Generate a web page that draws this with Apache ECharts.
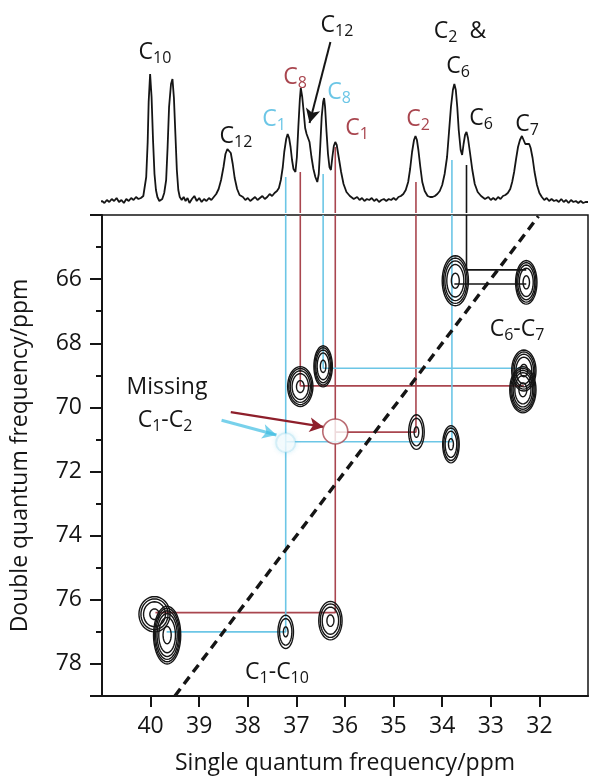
<!DOCTYPE html>
<html>
<head>
<meta charset="utf-8">
<script src="https://cdn.jsdelivr.net/npm/echarts@6/dist/echarts.min.js"></script>
<style>
  html, body { margin: 0; padding: 0; background: #fff; }
  #chart { width: 589px; height: 780px; }
</style>
</head>
<body>
<div id="chart"></div>
<script>
// axis ticks (ppm)
const sqTicks = [40, 39, 38, 37, 36, 35, 34, 33, 32];
const dqTicks = [66, 68, 70, 72, 74, 76, 78];
const dqMinor = [65, 67, 69, 71, 73, 75, 77];

// 1D spectrum on top: [single quantum ppm, intensity]
const spectrum = [
  [41.05, 0], [41.0, 1], [40.95, -1], [40.9, 2], [40.85, 0], [40.8, 3], [40.75, 1], [40.7, 4],
  [40.65, 0], [40.6, 2], [40.55, -1], [40.5, 3], [40.45, 1], [40.4, 4], [40.35, 2], [40.3, 5],
  [40.25, 3], [40.2, 4], [40.15, 6], [40.12, 8], [40.09, 25], [40.06, 60], [40.04, 100],
  [40.01, 128], [39.98, 105], [39.95, 62], [39.92, 28], [39.89, 12], [39.86, 5], [39.82, 1],
  [39.79, 0], [39.76, 3], [39.72, 9], [39.68, 22], [39.65, 55], [39.62, 95], [39.58, 118],
  [39.55, 123], [39.52, 104], [39.49, 68], [39.46, 32], [39.43, 12], [39.4, 5], [39.36, 2],
  [39.32, 5], [39.28, 1], [39.24, 4], [39.2, -1], [39.15, 3], [39.1, 6], [39.05, 1], [39.0, 4],
  [38.95, 0], [38.9, 3], [38.85, 1], [38.8, 4], [38.75, 2], [38.7, 5], [38.65, 8], [38.6, 13],
  [38.55, 22], [38.5, 35], [38.46, 48], [38.42, 53], [38.39, 54], [38.35, 49], [38.31, 38],
  [38.27, 24], [38.22, 13], [38.17, 7], [38.1, 5], [38.05, 2], [38.0, 4], [37.95, 1], [37.9, 3],
  [37.85, 5], [37.8, 2], [37.75, 4], [37.7, 6], [37.65, 3], [37.6, 5], [37.55, 8], [37.5, 6],
  [37.45, 9], [37.4, 11], [37.36, 14], [37.32, 22], [37.28, 35], [37.25, 50], [37.21, 63],
  [37.18, 68], [37.15, 64], [37.12, 55], [37.09, 42], [37.06, 33], [37.02, 30], [36.99, 45],
  [36.96, 75], [36.93, 102], [36.91, 114], [36.88, 105], [36.85, 90], [36.82, 74], [36.79, 68],
  [36.76, 67], [36.73, 60], [36.69, 45], [36.65, 33], [36.61, 25], [36.57, 20], [36.54, 28],
  [36.51, 55], [36.48, 85], [36.45, 100], [36.43, 104], [36.41, 95], [36.38, 70], [36.35, 48],
  [36.32, 35], [36.29, 32], [36.26, 45], [36.23, 56], [36.2, 60], [36.17, 57], [36.13, 45],
  [36.08, 30], [36.03, 18], [35.97, 10], [35.9, 6], [35.82, 3], [35.75, 5], [35.7, 2], [35.65, 4],
  [35.6, 1], [35.55, 3], [35.5, 2], [35.45, 4], [35.4, 1], [35.35, 3], [35.3, 0], [35.25, 2],
  [35.2, 3], [35.15, 1], [35.1, 3], [35.05, 2], [35.0, 4], [34.95, 2], [34.9, 5], [34.85, 6],
  [34.8, 8], [34.75, 12], [34.7, 20], [34.66, 33], [34.62, 50], [34.58, 62], [34.55, 66],
  [34.52, 62], [34.49, 52], [34.45, 35], [34.41, 20], [34.36, 11], [34.3, 6], [34.25, 5],
  [34.2, 5], [34.15, 6], [34.1, 8], [34.05, 11], [34.0, 17], [33.95, 28], [33.9, 45], [33.86, 70],
  [33.82, 95], [33.78, 112], [33.75, 118], [33.72, 112], [33.69, 95], [33.66, 72], [33.62, 52],
  [33.59, 47], [33.56, 58], [33.53, 67], [33.5, 70], [33.47, 64], [33.43, 50], [33.38, 32],
  [33.33, 18], [33.27, 10], [33.2, 6], [33.12, 3], [33.05, 5], [33.0, 2], [32.95, 4], [32.9, 2],
  [32.85, 5], [32.8, 3], [32.75, 6], [32.7, 7], [32.65, 9], [32.6, 13], [32.56, 20], [32.52, 30],
  [32.48, 43], [32.44, 55], [32.4, 62], [32.36, 66], [32.33, 64], [32.29, 58], [32.25, 57],
  [32.21, 58], [32.18, 54], [32.14, 44], [32.1, 30], [32.05, 17], [32.0, 9], [31.95, 5], [31.9, 2],
  [31.85, 4], [31.8, 1], [31.75, 3], [31.7, 1], [31.65, 2], [31.6, 0], [31.55, 3], [31.5, 0],
  [31.45, 2], [31.4, -1], [31.35, 2], [31.3, 0], [31.25, 1], [31.2, -1], [31.15, 1], [31.1, -1],
  [31.05, 0], [31.0, 0]
];

// 2D cross peaks: [sq ppm, dq ppm, half width sq, half width dq, contour levels]
const peaks = [
  [33.73, 66.05, 0.27, 0.78, 5],
  [32.27, 66.10, 0.22, 0.68, 5],
  [36.45, 68.72, 0.19, 0.64, 5],
  [36.92, 69.35, 0.26, 0.62, 5],
  [32.32, 68.85, 0.25, 0.64, 5],
  [32.34, 69.45, 0.27, 0.72, 6],
  [34.53, 70.77, 0.16, 0.54, 3],
  [33.82, 71.15, 0.17, 0.58, 4],
  [39.92, 76.45, 0.32, 0.55, 4],
  [39.66, 77.10, 0.28, 0.90, 6],
  [37.22, 77.00, 0.16, 0.52, 3],
  [36.30, 76.65, 0.24, 0.60, 4]
];

// connectivity paths in the 2D plot [sq, dq]
const redPaths = [
  [[36.92, 64], [36.92, 69.33], [32.32, 69.33]],
  [[36.2, 64], [36.2, 76.4], [39.9, 76.4]],
  [[34.54, 64], [34.54, 70.77], [36.2, 70.77]]
];
const cyanPaths = [
  [[37.22, 64], [37.22, 77.0], [39.67, 77.0]],
  [[36.45, 64], [36.45, 68.78], [32.32, 68.78]],
  [[33.8, 64], [33.8, 71.07], [37.22, 71.07]]
];
const blackPaths = [
  [[33.5, 64], [33.5, 65.71], [32.27, 65.71]],
  [[33.75, 66.15], [32.27, 66.15]]
];
// the same lines continued up into the spectrum: [sq, top intensity]
const redStubs = [[36.92, 30], [36.2, 55], [34.54, 20]];
const cyanStubs = [[37.22, 25], [36.45, 28], [33.8, 42]];
const blackStubs = [[33.5, 37]];

// DQ = 2 x SQ diagonal
const diagonal = [[39.5, 79], [32.02, 64.04]];
// missing C1-C2 positions
const missingRed = [[36.2, 70.75]];
const missingCyan = [[37.22, 71.1]];
// arrows [from, to]
const arrowTop = [[36.30, 160], [36.73, 79]];
const arrowRed = [[38.35, 70.15], [36.44, 70.61]];
const arrowCyan = [[38.54, 70.40], [37.41, 70.86]];

const RED = '#a9464f';
const CYAN = '#6cc6e6';
const INK = '#151515';
const FONT = 'Open Sans';

const chart = echarts.init(document.getElementById('chart'));

function pathSeries(paths, color, xi, yi) {
  return paths.map(p => ({
    type: 'line', xAxisIndex: xi, yAxisIndex: yi, data: p,
    symbol: 'none', silent: true, z: 2,
    lineStyle: { color: color, width: 1.6 }
  }));
}
function stubSeries(stubs, color) {
  return stubs.map(s => ({
    type: 'line', xAxisIndex: 1, yAxisIndex: 1, data: [[s[0], -11], [s[0], s[1]]],
    symbol: 'none', silent: true, z: 2,
    lineStyle: { color: color, width: 1.6 }
  }));
}
function arrowSeries(a, color, xi, yi, width, opacity) {
  return {
    type: 'line', xAxisIndex: xi, yAxisIndex: yi, data: [], z: 5,
    markLine: {
      silent: true, animation: false,
      symbol: ['none', 'arrow'], symbolSize: [11, 14],
      label: { show: false },
      lineStyle: { color: color, width: width, type: 'solid', opacity: opacity },
      data: [[{ coord: a[0] }, { coord: a[1] }]]
    }
  };
}

function renderPeak(params, api) {
  const cx = api.value(0), cy = api.value(1), rx = api.value(2), ry = api.value(3), n = api.value(4);
  const children = [];
  for (let k = 0; k < n; k++) {
    const s = n > 1 ? 0.3 + 0.7 * Math.sqrt(k / (n - 1)) : 1;
    const pts = [];
    for (let i = 0; i < 40; i++) {
      const t = i / 40 * Math.PI * 2;
      pts.push(api.coord([cx + rx * s * Math.cos(t), cy + ry * s * Math.sin(t)]));
    }
    children.push({
      type: 'polygon', shape: { points: pts },
      style: { fill: 'none', stroke: INK, lineWidth: 1.4 }
    });
  }
  return { type: 'group', children: children };
}

const rich = {
  n: { fontSize: 23, fontFamily: FONT, lineHeight: 28 },
  s: { fontSize: 16, fontFamily: FONT, verticalAlign: 'bottom' },
  cn: { fontSize: 23, fontFamily: FONT, lineHeight: 28, color: CYAN },
  cs: { fontSize: 16, fontFamily: FONT, verticalAlign: 'bottom', color: CYAN }
};
const labels = [
  ['{n|C}{s|10}', 155, 52, INK],
  ['{n|C}{s|12}', 236, 136, INK],
  ['{n|C}{s|1}', 274, 119, CYAN],
  ['{n|C}{s|8}', 295, 77, RED],
  ['{n|C}{s|12}', 337, 25, INK],
  ['{n|C}{s|8}', 339, 92, CYAN],
  ['{n|C}{s|1}', 357, 128, RED],
  ['{n|C}{s|2}', 418, 119, RED],
  ['{cn|C}{cs|2}{n|  &}', 460, 31, INK],
  ['{n|C}{s|6}', 458, 66, INK],
  ['{n|C}{s|6}', 481, 118, INK],
  ['{n|C}{s|7}', 527, 124, INK],
  ['{n|Missing}', 167, 387, INK],
  ['{n|C}{s|1}{n|-C}{s|2}', 165, 420, INK],
  ['{n|C}{s|6}{n|-C}{s|7}', 517, 329, INK],
  ['{n|C}{s|1}{n|-C}{s|10}', 277, 672, INK]
];

const option = {
  backgroundColor: '#fff',
  animation: false,
  grid: [
    { left: 102, right: 1, top: 215, bottom: 79, show: true, borderColor: INK, borderWidth: 1.5 },
    { left: 102, right: 1, top: 0, height: 213 }
  ],
  xAxis: [
    {
      type: 'value', gridIndex: 0, min: 31, max: 41, inverse: true,
      name: 'Single quantum frequency/ppm', nameLocation: 'middle', nameGap: 56,
      nameTextStyle: { fontSize: 23, fontFamily: FONT, color: INK },
      axisLine: { show: true, lineStyle: { color: INK, width: 2 } },
      axisTick: { show: true, length: 11, customValues: sqTicks, lineStyle: { color: INK, width: 2 } },
      axisLabel: { customValues: sqTicks, fontSize: 23, fontFamily: FONT, color: INK, margin: 19 },
      splitLine: { show: false }
    },
    { type: 'value', gridIndex: 1, min: 31, max: 41, inverse: true, show: false }
  ],
  yAxis: [
    {
      type: 'value', gridIndex: 0, min: 64, max: 79, inverse: true,
      name: 'Double quantum frequency/ppm', nameLocation: 'middle', nameGap: 70,
      nameTextStyle: { fontSize: 23, fontFamily: FONT, color: INK },
      axisLine: { show: true, lineStyle: { color: INK, width: 2 } },
      axisTick: { show: true, length: 12, customValues: [64].concat(dqTicks, [79]), lineStyle: { color: INK, width: 2 } },
      axisLabel: { customValues: dqTicks, fontSize: 23, fontFamily: FONT, color: INK, margin: 20 },
      splitLine: { show: false }
    },
    { type: 'value', gridIndex: 1, min: -11, max: 202, show: false },
    {
      type: 'value', gridIndex: 0, min: 64, max: 79, inverse: true, position: 'left',
      axisLine: { show: false },
      axisTick: { show: true, length: 6, customValues: dqMinor, lineStyle: { color: INK, width: 2 } },
      axisLabel: { show: false }, splitLine: { show: false }
    }
  ],
  series: [].concat(
    pathSeries(redPaths, RED, 0, 0),
    pathSeries(cyanPaths, CYAN, 0, 0),
    pathSeries(blackPaths, INK, 0, 0),
    stubSeries(redStubs, RED),
    stubSeries(cyanStubs, CYAN),
    stubSeries(blackStubs, INK),
    [
      {
        type: 'line', xAxisIndex: 1, yAxisIndex: 1, data: spectrum, symbol: 'none',
        z: 3, lineStyle: { color: INK, width: 1.8 }
      },
      {
        type: 'line', xAxisIndex: 0, yAxisIndex: 0, data: diagonal, symbol: 'none', z: 3,
        lineStyle: { color: INK, width: 3.4, type: [9, 6] }
      },
      {
        type: 'custom', xAxisIndex: 0, yAxisIndex: 0, data: peaks, renderItem: renderPeak,
        silent: true, z: 4
      },
      {
        type: 'scatter', xAxisIndex: 0, yAxisIndex: 0, data: missingRed, symbol: 'circle',
        symbolSize: 25, z: 6, silent: true,
        itemStyle: { color: '#fff', borderColor: RED, borderWidth: 1.6 }
      },
      {
        type: 'scatter', xAxisIndex: 0, yAxisIndex: 0, data: missingCyan, symbol: 'circle',
        symbolSize: 19, z: 6, silent: true,
        itemStyle: { color: 'rgba(255,255,255,0.95)', borderColor: 'rgba(108,198,230,0.25)', borderWidth: 2,
          shadowBlur: 5, shadowColor: 'rgba(108,198,230,0.45)' }
      },
      arrowSeries(arrowTop, INK, 1, 1, 2, 1),
      arrowSeries(arrowRed, '#8e1f2b', 0, 0, 2.2, 1),
      arrowSeries(arrowCyan, '#3fbde2', 0, 0, 3, 0.7)
    ]
  ),
  graphic: labels.map(l => ({
    type: 'text', x: l[1], y: l[2], z: 10, silent: true,
    style: { text: l[0], rich: rich, fill: l[3], align: 'center', verticalAlign: 'middle',
      fontFamily: FONT, fontSize: 23 }
  }))
};

chart.setOption(option);
</script>
</body>
</html>
